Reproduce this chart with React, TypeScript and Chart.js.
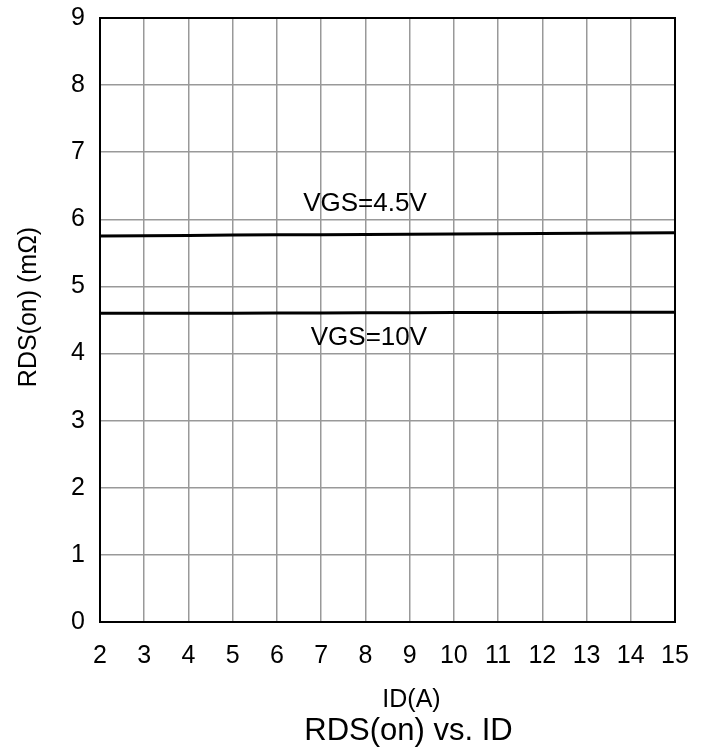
import React, { useEffect, useRef } from "react";
import { Chart, registerables } from "chart.js";

Chart.register(...registerables);

const currents = [2, 3, 4, 5, 6, 7, 8, 9, 10, 11, 12, 13, 14, 15];
const rdsVgs45 = [5.75, 5.755, 5.76, 5.765, 5.77, 5.772, 5.775, 5.778, 5.781, 5.785, 5.789, 5.792, 5.796, 5.8];
const rdsVgs10 = [4.6, 4.6, 4.6, 4.602, 4.604, 4.605, 4.607, 4.608, 4.61, 4.611, 4.612, 4.614, 4.616, 4.617];
const seriesLabels = ["VGS=4.5V", "VGS=10V"];
const labelAnchors = [
  { x: 7.99, y: 6.23 },
  { x: 8.08, y: 4.23 },
];
const xTitle = "ID(A)";
const yTitle = "RDS(on) (mΩ)";
const chartTitle = "RDS(on) vs. ID";

const FONT = "'Liberation Sans', Arial, Helvetica, sans-serif";

const overlayPlugin = {
  id: "overlay",
  afterDatasetsDraw(chart: any) {
    const { ctx, chartArea, scales } = chart;
    const cx = (chartArea.left + chartArea.right) / 2;
    const cy = (chartArea.top + chartArea.bottom) / 2;
    ctx.save();
    ctx.strokeStyle = "#000";
    ctx.lineWidth = 2;
    ctx.strokeRect(chartArea.left, chartArea.top, chartArea.right - chartArea.left, chartArea.bottom - chartArea.top);
    ctx.fillStyle = "#000";
    ctx.font = `26px ${FONT}`;
    ctx.textAlign = "center";
    ctx.textBaseline = "middle";
    seriesLabels.forEach((t, i) => {
      const a = labelAnchors[i];
      ctx.fillText(t, scales.x.getPixelForValue(a.x), scales.y.getPixelForValue(a.y));
    });
    ctx.textBaseline = "alphabetic";
    ctx.font = `25px ${FONT}`;
    ctx.fillText(xTitle, cx + 24, chartArea.bottom + 85);
    ctx.font = `31px ${FONT}`;
    ctx.fillText(chartTitle, cx + 21, chartArea.bottom + 118);
    ctx.save();
    ctx.translate(chartArea.left - 70.5, cy - 13);
    ctx.rotate(-Math.PI / 2);
    ctx.font = `25px ${FONT}`;
    ctx.textBaseline = "middle";
    ctx.fillText(yTitle, 0, 0);
    ctx.restore();
    ctx.restore();
  },
};

export default function App() {
  const ref = useRef<HTMLCanvasElement>(null);
  useEffect(() => {
    document.body.style.margin = "0";
    const chart = new Chart(ref.current!, {
      type: "line",
      data: {
        datasets: [
          {
            label: seriesLabels[0],
            data: currents.map((x, i) => ({ x, y: rdsVgs45[i] })),
            borderColor: "#000",
            borderWidth: 3,
            pointRadius: 0,
            tension: 0,
          },
          {
            label: seriesLabels[1],
            data: currents.map((x, i) => ({ x, y: rdsVgs10[i] })),
            borderColor: "#000",
            borderWidth: 3,
            pointRadius: 0,
            tension: 0,
          },
        ],
      },
      options: {
        animation: false,
        responsive: false,
        layout: { padding: { top: 18, right: 32, left: 0, bottom: 0 } },
        plugins: {
          legend: { display: false },
          tooltip: { enabled: false },
          title: { display: false },
        },
        scales: {
          x: {
            type: "linear",
            min: 2,
            max: 15,
            afterFit(scale: any) {
              scale.height = 129;
              scale.paddingLeft = 0;
              scale.paddingRight = 0;
            },
            ticks: {
              stepSize: 1,
              color: "#000",
              padding: 19,
              maxRotation: 0,
              autoSkip: false,
              font: { family: FONT, size: 25 },
            },
            grid: { color: "#999", lineWidth: 1.5, drawTicks: false },
            border: { display: true, color: "#000", width: 2 },
          },
          y: {
            type: "linear",
            min: 0,
            max: 9,
            afterFit(scale: any) {
              scale.width = 100;
              scale.paddingTop = 0;
              scale.paddingBottom = 0;
            },
            ticks: {
              stepSize: 1,
              color: "#000",
              padding: 15,
              font: { family: FONT, size: 25 },
            },
            grid: { color: "#999", lineWidth: 1.5, drawTicks: false },
            border: { display: true, color: "#000", width: 2 },
          },
        },
      },
      plugins: [overlayPlugin],
    });
    return () => chart.destroy();
  }, []);
  return (
    <div style={{ position: "absolute", left: 0, top: 0, width: 707, height: 751, background: "#fff" }}>
      <canvas ref={ref} width={707} height={751} style={{ display: "block", width: 707, height: 751 }} />
    </div>
  );
}
